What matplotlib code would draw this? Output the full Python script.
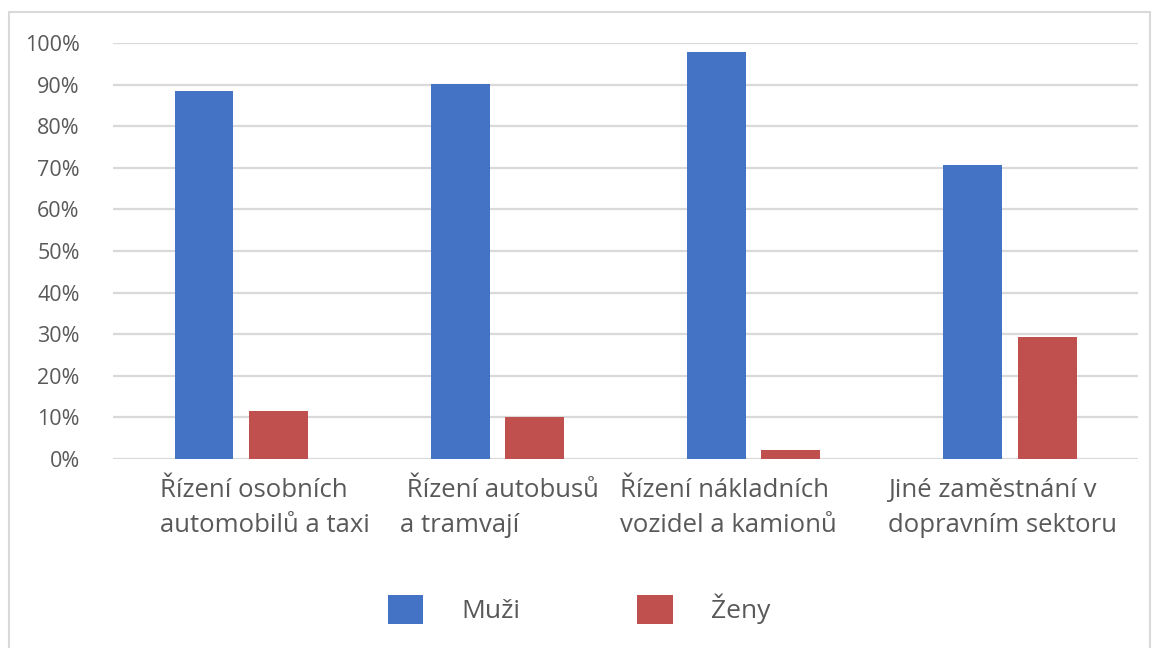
import matplotlib
matplotlib.use("Agg")
import matplotlib.pyplot as plt
from matplotlib.patches import Rectangle, Patch
from matplotlib.transforms import ScaledTranslation
import numpy as np

categories = ["Řízení osobních\nautomobilů a taxi", " Řízení autobusů\na tramvají",
              "Řízení nákladních\nvozidel a kamionů", "Jiné zaměstnání v\ndopravním sektoru"]
muzi = [88.5, 90.2, 97.9, 70.7]
zeny = [11.5, 10.2, 2.1, 29.3]
series_names = ["Muži", "Ženy"]
yticks = [0, 10, 20, 30, 40, 50, 60, 70, 80, 90, 100]

blue = "#4472C4"
red = "#C0504D"
textc = "#595959"
plt.rcParams['font.family'] = ['Open Sans', 'DejaVu Sans']

fig = plt.figure(figsize=(11.56, 6.48), dpi=100)
ax = fig.add_axes([113/1156, 1-459/648, (1138-113)/1156, (459-43)/648])

x = np.arange(len(categories))
w = 0.23
off = 0.145
ax.bar(x - off, muzi, w, color=blue, label=series_names[0], zorder=3)
ax.bar(x + off, zeny, w, color=red, label=series_names[1], zorder=3)

ax.set_xlim(-0.5, len(categories) - 0.5)
ax.set_ylim(0, 100)
ax.set_yticks(yticks)
ax.set_yticklabels([f"{v}%" for v in yticks], fontsize=15.5, color=textc)
ax.yaxis.grid(True, color="#D9D9D9", linewidth=1.6, zorder=0)
ax.set_axisbelow(True)
for s in ax.spines.values():
    s.set_visible(False)
ax.tick_params(axis='y', length=0, pad=24)
ax.tick_params(axis='x', length=0, pad=14)
ax.set_xticks(x)
ax.set_xticklabels(categories, fontsize=18.5, color=textc, linespacing=1.5, multialignment='left')
label_shift_px = [24, 2, -25, -7]
for lab, dx in zip(ax.get_xticklabels(), label_shift_px):
    lab.set_transform(lab.get_transform() + ScaledTranslation(dx / 100, 0, fig.dpi_scale_trans))

handles = [Patch(facecolor=blue), Patch(facecolor=red)]
leg = fig.legend(handles, series_names, loc='center', bbox_to_anchor=(579/1156, 1-609/648),
                 ncol=2, frameon=False, fontsize=19, handlelength=1.36, handleheight=1.36,
                 handletextpad=1.45, columnspacing=4.4, labelcolor=textc)

fig.patches.append(Rectangle((9/1156, -0.05), (1150-9)/1156, 1.05 - 12/648,
                             transform=fig.transFigure, fill=False,
                             edgecolor="#D9D9D9", linewidth=1.5))

fig.savefig("out.png", dpi=100, facecolor="white")
